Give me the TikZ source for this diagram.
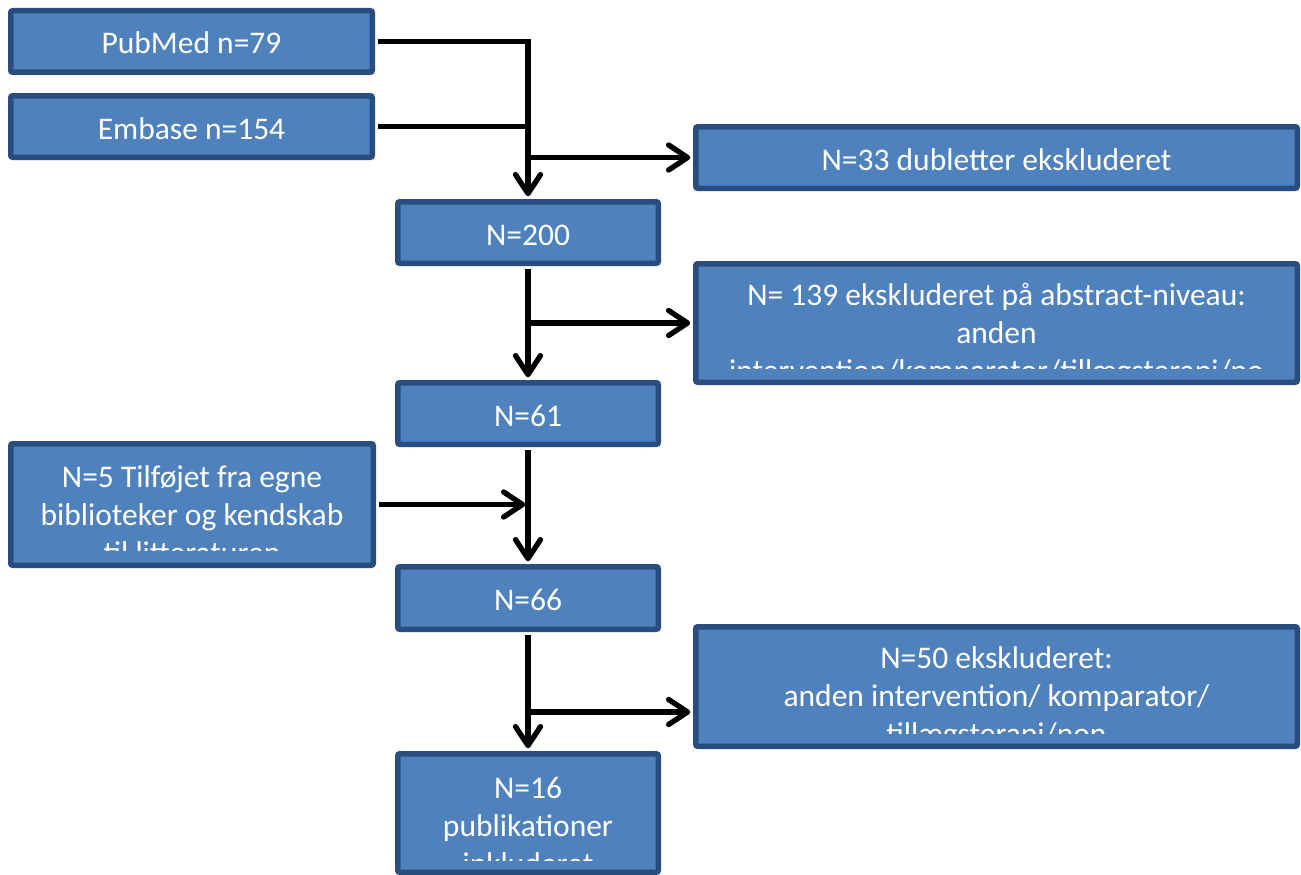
\documentclass[tikz,border=0pt]{standalone}
\usepackage{fontspec}
\setmainfont{Carlito}
\usetikzlibrary{arrows.meta}
\definecolor{boxfill}{HTML}{4F81BD}
\definecolor{boxline}{HTML}{294D7E}
\begin{document}
\begin{tikzpicture}[x=1pt,y=-1pt,
  box/.style={draw=boxline, fill=boxfill, line width=5.5pt, rounded corners=2pt,
    text=white, font=\fontsize{31.5}{38}\selectfont, inner sep=0pt,
    text height=25pt, text depth=0pt},
  txt/.style={text=white, font=\fontsize{31.5}{38}\selectfont, align=center, inner sep=0pt, anchor=north},
  conn/.style={line width=5.3pt, black},
  arr/.style={conn, -{Straight Barb[length=19pt,width=25pt,round]}, shorten >=2.75pt},
  from/.style={shorten <=2.75pt}]
\useasboundingbox (0,0) rectangle (1301,875);

% boxes
\node[box, minimum width=361.5pt, minimum height=61.5pt] (pub) at (191.5,41.5) {PubMed n=79};
\node[box, minimum width=361.5pt, minimum height=61.5pt] (emb) at (191.5,126.5) {Embase n=154};
\node[box, minimum width=601.5pt, minimum height=61.5pt] (d33) at (996.5,157.5) {N=33 dubletter ekskluderet};
\node[box, minimum width=260.5pt, minimum height=61.5pt] (n200) at (528,232.5) {N=200};
\node[box, minimum width=601.5pt, minimum height=118.5pt] (e139) at (996.5,323) {};
\node[box, minimum width=260.5pt, minimum height=61.5pt] (n61) at (528,413.5) {N=61};
\node[box, minimum width=362.5pt, minimum height=121.5pt] (add5) at (192,504.5) {};
\node[box, minimum width=260.5pt, minimum height=62.5pt] (n66) at (528,598) {N=66};
\node[box, minimum width=601.5pt, minimum height=119.5pt] (e50) at (996.5,686.5) {};
\node[box, minimum width=260.5pt, minimum height=118.5pt] (n16) at (528,813) {};

% clipped multi-line texts
\begin{scope}
  \clip (696,264) rectangle (1297,368);
  \node[txt] (t139) at (996.5,277) {\rule{0pt}{28pt}N= 139 ekskluderet på abstract-niveau:\\anden\\intervention/komparator/tillægsterapi/no};
\end{scope}
\begin{scope}
  \clip (11,444) rectangle (373,550);
  \node[txt] (t5) at (192,459) {\rule{0pt}{28pt}N=5 Tilføjet fra egne\\biblioteker og kendskab\\til litteraturen};
\end{scope}
\begin{scope}
  \clip (696,627) rectangle (1297,733);
  \node[txt] (t50) at (996.5,640) {\rule{0pt}{28pt}N=50 ekskluderet:\\anden intervention/ komparator/\\tillægsterapi/non};
\end{scope}
\begin{scope}
  \clip (398,754) rectangle (658,860);
  \node[txt] (t16) at (528,770) {\rule{0pt}{28pt}N=16\\publikationer\\inkluderet};
\end{scope}

% connectors
\draw[arr, from] (pub.east) -| (n200.north);
\draw[conn, from] (emb.east) -- (emb.east -| n200.north);
\draw[arr] (n200.north |- d33.west) -- (d33.west);
\draw[arr, from] (n200.south) -- (n61.north);
\draw[arr] (n200.south |- e139.west) -- (e139.west);
\draw[arr, from] (add5.east) -- (add5.east -| n61.south);
\draw[arr, from] (n61.south) -- (n66.north);
\draw[arr, from] (n66.south) -- (n16.north);
\coordinate (b50) at (528,712);
\draw[arr] (b50) -- (b50 -| e50.west);
\end{tikzpicture}
\end{document}
